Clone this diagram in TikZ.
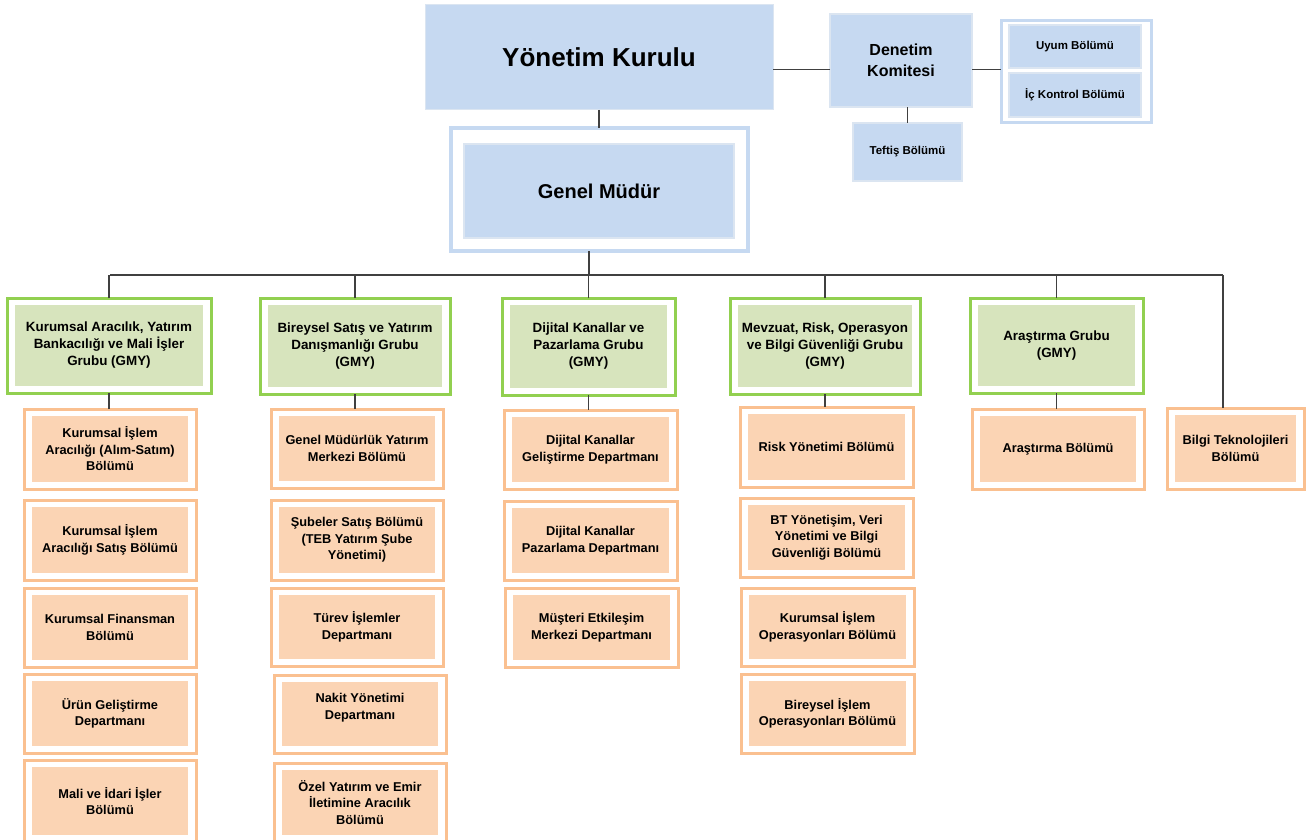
\documentclass[tikz,border=0pt]{standalone}
\usepackage{fontspec}
\setmainfont{Liberation Sans}
\definecolor{bfill}{HTML}{C6D9F1}
\definecolor{bline}{HTML}{DBE5F1}
\definecolor{gline}{HTML}{92D050}
\definecolor{gfill}{HTML}{D7E4BD}
\definecolor{oline}{HTML}{FAC090}
\definecolor{ofill}{HTML}{FBD4B4}
\definecolor{conn}{HTML}{404040}
\newcommand{\bx}[7]{\node[#1, minimum width={(#5-#3)*1pt}, minimum height={(#6-#4)*1pt}] (#2) at ({(#3+#5)/2},{(#4+#6)/2}) {#7};}
\tikzset{
  base/.style={inner sep=0pt, outer sep=0pt, align=center, font=\bfseries},
  inset/.style={path picture={\fill[#1] ([shift={(7.5pt,7pt)}]path picture bounding box.south west) rectangle ([shift={(-8pt,-7pt)}]path picture bounding box.north east);}},
  grp/.style={base, draw=gline, line width=3pt, fill=white, inset=gfill, font=\bfseries\fontsize{13.4}{17}\selectfont},
  sub/.style={base, draw=oline, line width=3pt, fill=white, inset=ofill, font=\bfseries\fontsize{12.8}{16.5}\selectfont},
  bluebox/.style={base, fill=bfill, draw=bline, line width=2pt},
  smallblue/.style={bluebox, font=\bfseries\fontsize{11.5}{13}\selectfont},
  conline/.style={draw=conn, line width=1.5pt},
}
\begin{document}
\begin{tikzpicture}[x=1pt,y=-1pt]
\useasboundingbox (0,0) rectangle (1306,840);
% top
\bx{bluebox, draw=bline, line width=1pt, font=\bfseries\fontsize{26}{30}\selectfont}{yk}{425}{5}{773}{110}{Yönetim Kurulu}
\bx{bluebox, font=\bfseries\fontsize{16}{20.5}\selectfont}{dk}{830}{14}{972}{107}{Denetim\\Komitesi}
\bx{base, draw=bfill, line width=3pt, fill=white}{uic}{1001}{21}{1151}{123}{}
\bx{smallblue}{uy}{1009}{25}{1141}{68}{Uyum Bölümü}
\bx{smallblue}{ik}{1009}{73}{1141}{117}{İç Kontrol Bölümü}
\bx{smallblue}{tf}{853}{123}{962}{181}{Teftiş Bölümü}
\bx{base, draw=bfill, line width=3.5pt, fill=white}{gm}{451}{128}{748}{251}{}
\bx{bluebox, font=\bfseries\fontsize{20}{24}\selectfont}{gmi}{464}{144}{734}{238}{Genel Müdür}
% groups
\bx{grp}{g1}{7}{298}{211}{393}{Kurumsal Aracılık, Yatırım\\Bankacılığı ve Mali İşler\\Grubu (GMY)}
\bx{grp}{g2}{260}{298}{450}{394}{Bireysel Satış ve Yatırım\\Danışmanlığı Grubu\\(GMY)}
\bx{grp}{g3}{502}{298}{675}{395}{Dijital Kanallar ve\\Pazarlama Grubu\\(GMY)}
\bx{grp}{g4}{730}{298}{920}{394}{Mevzuat, Risk, Operasyon\\ve Bilgi Güvenliği Grubu\\(GMY)}
\bx{grp}{g5}{970}{298}{1143}{393}{Araştırma Grubu\\(GMY)}
% column 1
\bx{sub}{s11}{24}{409}{196}{489}{Kurumsal İşlem\\Aracılığı (Alım-Satım)\\Bölümü}
\bx{sub}{s12}{24}{500}{196}{580}{Kurumsal İşlem\\Aracılığı Satış Bölümü}
\bx{sub}{s13}{24}{588}{196}{667}{Kurumsal Finansman\\Bölümü}
\bx{sub}{s14}{24}{674}{196}{753}{Ürün Geliştirme\\Departmanı}
\bx{sub}{s15}{24}{760}{196}{842}{Mali ve İdari İşler\\Bölümü}
% column 2
\bx{sub}{s21}{271}{409}{443}{488}{Genel Müdürlük Yatırım\\Merkezi Bölümü}
\bx{sub}{s22}{271}{500}{443}{580}{Şubeler Satış Bölümü\\(TEB Yatırım Şube\\Yönetimi)}
\bx{sub}{s23}{271}{588}{443}{666}{Türev İşlemler\\Departmanı}
\bx{sub, text depth=15pt}{s24}{274}{675}{446}{753}{Nakit Yönetimi\\Departmanı}
\bx{sub}{s25}{274}{763}{446}{842}{Özel Yatırım ve Emir\\İletimine Aracılık\\Bölümü}
% column 3
\bx{sub}{s31}{504}{410}{677}{489}{Dijital Kanallar\\Geliştirme Departmanı}
\bx{sub}{s32}{504}{501}{677}{580}{Dijital Kanallar\\Pazarlama Departmanı}
\bx{sub}{s33}{505}{588}{678}{667}{Müşteri Etkileşim\\Merkezi Departmanı}
% column 4
\bx{sub}{s41}{740}{407}{913}{487}{Risk Yönetimi Bölümü}
\bx{sub}{s42}{740}{498}{913}{577}{BT Yönetişim, Veri\\Yönetimi ve Bilgi\\Güvenliği Bölümü}
\bx{sub}{s43}{741}{588}{914}{666}{Kurumsal İşlem\\Operasyonları Bölümü}
\bx{sub}{s44}{741}{674}{914}{753}{Bireysel İşlem\\Operasyonları Bölümü}
% column 5
\bx{sub}{s51}{972}{409}{1144}{489}{Araştırma Bölümü}
\bx{sub}{bt}{1167}{408}{1304}{489}{Bilgi Teknolojileri\\Bölümü}
% connectors
\coordinate (busL) at (110,275);
\coordinate (busM) at (589,275);
\coordinate (busR) at (1223,275);
\draw[conline] (yk.south) -- (yk.south |- gm.north);
\draw[conline] ([yshift=-9pt]dk.west) -- ([yshift=-9pt]dk.west -| yk.east);
\draw[conline] ([yshift=-9pt]dk.east) -- ([yshift=-9pt]dk.east -| uic.west);
\draw[conline] (tf.north) -- (tf.north |- dk.south);
\draw[conline] (busM) -- (busM |- gm.south);
\draw[conline] (busL) -- (busR);
\draw[conline] (busR) -- (busR |- bt.north);
\foreach \g/\s in {g1/s11,g2/s21,g3/s31,g4/s41,g5/s51}{
  \draw[conline] (\g.north) -- (\g.north |- busL);
  \draw[conline] (\g.south) -- (\g.south |- \s.north);
}
\end{tikzpicture}
\end{document}
